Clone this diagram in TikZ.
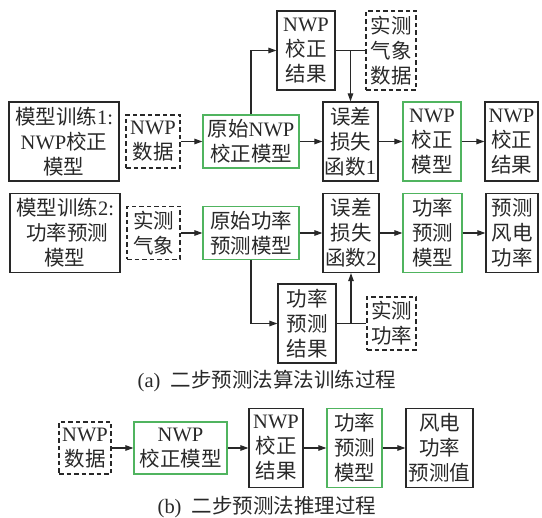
\documentclass[tikz,border=0pt]{standalone}
\usepackage{fontspec}
\setmainfont{Liberation Serif}
\newfontfamily\cjk{Noto Sans CJK SC}
\newcommand\zhs[1]{{\cjk #1}}
\usetikzlibrary{arrows.meta}
\definecolor{boxgreen}{RGB}{80,180,95}
\definecolor{ink}{RGB}{40,40,40}
\tikzset{
  base/.style={rectangle, inner sep=0pt, align=center, line width=1.2pt, text=ink,
    font=\fontsize{20.5}{25}\selectfont},
  blk/.style={base, draw=ink},
  grn/.style={base, draw=boxgreen},
  dsh/.style={base, draw=ink, dash pattern=on 4.5pt off 3pt},
  arr/.style={draw=ink, line width=1.1pt, -{Triangle[length=8pt,width=5.5pt]}},
  ln/.style={draw=ink, line width=1.1pt},
  captxt/.style={inner sep=0pt, text=ink, font=\fontsize{20.5}{25}\selectfont}
}
\begin{document}
\begin{tikzpicture}[x=1pt,y=-1pt]
\useasboundingbox (0,0) rectangle (542,518);
% row 1
\node[blk, minimum width=110pt, minimum height=79pt] (m1) at (64,141.5) {\zhs{模型训练}1:\\NWP\zhs{校正}\\\zhs{模型}};
\node[dsh, minimum width=54pt, minimum height=53pt] (nwp1) at (153,141.5) {NWP\\\zhs{数据}};
\node[grn, minimum width=96pt, minimum height=53pt] (g1) at (251,141.5) {\zhs{原始}NWP\\\zhs{校正模型}};
\node[blk, minimum width=58pt, minimum height=79pt] (rt) at (306,50.5) {NWP\\\zhs{校正}\\\zhs{结果}};
\node[dsh, minimum width=50pt, minimum height=79pt] (o1) at (391,50.5) {\zhs{实测}\\\zhs{气象}\\\zhs{数据}};
\node[blk, minimum width=55pt, minimum height=79pt] (e1) at (350.5,141.5) {\zhs{误差}\\\zhs{损失}\\\zhs{函数}1};
\node[grn, minimum width=58pt, minimum height=79pt] (nm) at (432,141.5) {NWP\\\zhs{校正}\\\zhs{模型}};
\node[blk, minimum width=53pt, minimum height=79pt] (r1) at (511.5,141.5) {NWP\\\zhs{校正}\\\zhs{结果}};
\draw[arr] (nwp1) -- (g1);
\draw[arr] (g1.north) |- (rt.west);
\draw[ln] (rt.east) -- (o1.west);
\draw[arr] (e1.north |- rt.east) -- (e1.north);
\draw[arr] (g1) -- (e1);
\draw[arr] (e1) -- (nm);
\draw[arr] (nm) -- (r1);
% row 2
\node[blk, minimum width=110pt, minimum height=79pt] (m2) at (65,233) {\zhs{模型训练}2:\\\zhs{\ 功率预测}\\\zhs{模型}};
\node[dsh, minimum width=53pt, minimum height=53pt] (o2) at (153.5,233) {\zhs{实测}\\\zhs{气象}};
\node[grn, minimum width=96pt, minimum height=53pt] (g2) at (251,233) {\zhs{原始功率}\\\zhs{预测模型}};
\node[blk, minimum width=56pt, minimum height=79pt] (e2) at (351,233) {\zhs{误差}\\\zhs{损失}\\\zhs{函数}2};
\node[grn, minimum width=59pt, minimum height=79pt] (pm) at (432.5,233) {\zhs{功率}\\\zhs{预测}\\\zhs{模型}};
\node[blk, minimum width=52pt, minimum height=79pt] (pw) at (512,233) {\zhs{预测}\\\zhs{风电}\\\zhs{功率}};
\node[blk, minimum width=58pt, minimum height=79pt] (r2) at (307,323.5) {\zhs{功率}\\\zhs{预测}\\\zhs{结果}};
\node[dsh, minimum width=49pt, minimum height=53pt] (op) at (391.5,323.5) {\zhs{实测}\\\zhs{功率}};
\draw[arr] (o2) -- (g2);
\draw[arr] (g2.south) |- (r2.west);
\draw[ln] (r2.east) -- (op.west);
\draw[arr] (e2.south |- r2.east) -- (e2.south);
\draw[arr] (g2) -- (e2);
\draw[arr] (e2) -- (pm);
\draw[arr] (pm) -- (pw);
\node[captxt] (ca) at (267,381) {(a)\ \ \zhs{二步预测法算法训练过程}};
% row b
\node[dsh, minimum width=52pt, minimum height=52pt] (nb) at (85,448) {NWP\\\zhs{数据}};
\node[grn, minimum width=93pt, minimum height=52pt] (gb) at (180.5,448) {NWP\\\zhs{校正模型}};
\node[blk, minimum width=54pt, minimum height=79pt] (rb) at (276,448) {NWP\\\zhs{校正}\\\zhs{结果}};
\node[grn, minimum width=55pt, minimum height=79pt] (pb) at (354.5,448) {\zhs{功率}\\\zhs{预测}\\\zhs{模型}};
\node[blk, minimum width=67pt, minimum height=79pt] (ob) at (439.5,448) {\zhs{风电}\\\zhs{功率}\\\zhs{预测值}};
\draw[arr] (nb) -- (gb);
\draw[arr] (gb) -- (rb);
\draw[arr] (rb) -- (pb);
\draw[arr] (pb) -- (ob);
\node[captxt] (cb) at (267,507) {(b)\ \ \zhs{二步预测法推理过程}};
\end{tikzpicture}
\end{document}
